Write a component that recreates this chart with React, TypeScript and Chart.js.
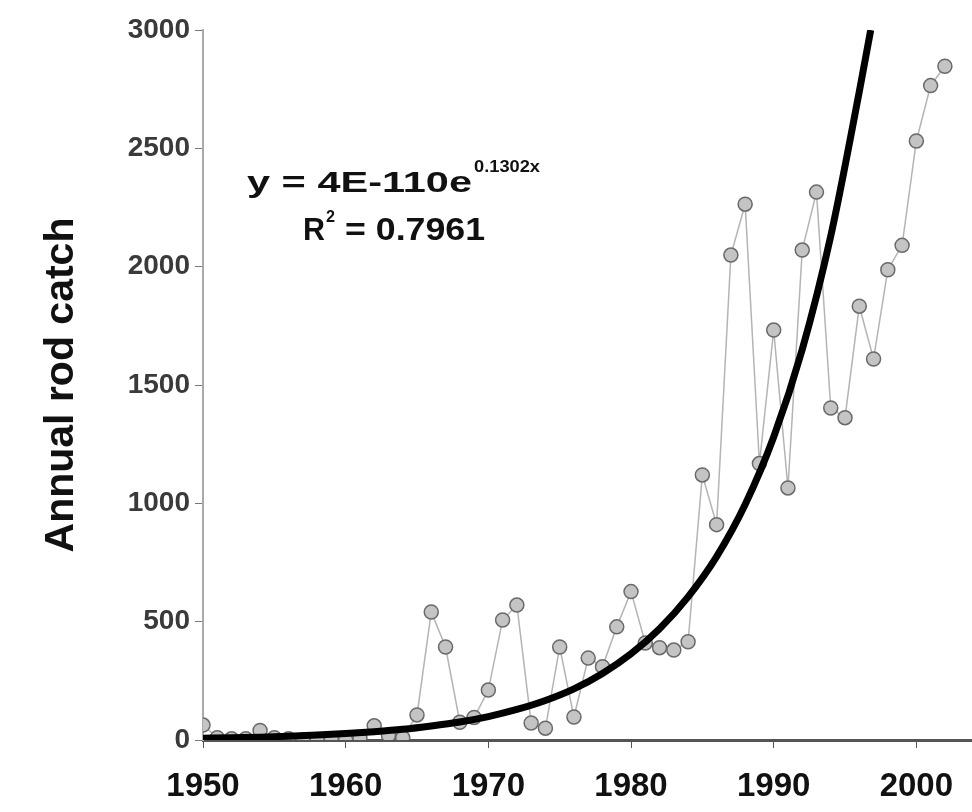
import React, { useEffect, useRef } from 'react';
import { Chart, registerables } from 'chart.js';

Chart.register(...registerables);

const years = [
  1950, 1951, 1952, 1953, 1954, 1955, 1956, 1957, 1958, 1959,
  1960, 1961, 1962, 1963, 1964, 1965, 1966, 1967, 1968, 1969,
  1970, 1971, 1972, 1973, 1974, 1975, 1976, 1977, 1978, 1979,
  1980, 1981, 1982, 1983, 1984, 1985, 1986, 1987, 1988, 1989,
  1990, 1991, 1992, 1993, 1994, 1995, 1996, 1997, 1998, 1999,
  2000, 2001, 2002,
];
const catches = [
  63, 10, 5, 5, 40, 10, 5, 0, 0, 0,
  0, 10, 60, 20, 10, 106, 541, 393, 75, 95,
  211, 507, 570, 72, 50, 393, 97, 346, 310, 478,
  627, 410, 390, 380, 415, 1120, 910, 2049, 2264, 1168,
  1732, 1065, 2070, 2315, 1403, 1362, 1833, 1610, 1987, 2090,
  2531, 2765, 2847,
];
// exponential trend line as drawn on the chart
const trendYears = [
  1950, 1952, 1954, 1956, 1958, 1960, 1962, 1964, 1966, 1968,
  1970, 1972, 1974, 1976, 1978, 1980, 1982, 1984, 1986, 1988,
  1990, 1992, 1994, 1996, 1996.8,
];
const trendValues = [
  7, 10, 12, 16, 21, 27, 35, 45, 59, 76,
  99, 129, 167, 216, 281, 364, 470, 605, 775, 995,
  1280, 1650, 2130, 2740, 3000,
];
const xTicks = [1950, 1960, 1970, 1980, 1990, 2000];
const yTicks = [0, 500, 1000, 1500, 2000, 2500, 3000];
const yTitle = 'Annual rod catch';
const eqMain = 'y = 4E-110e';
const eqExp = '0.1302x';
const r2Base = 'R';
const r2Sup = '2';
const r2Rest = '= 0.7961';

const FONT = '"Liberation Sans", Arial, sans-serif';

function drawScaled(ctx: any, text: string, x: number, y: number, font: string, width: number) {
  ctx.font = font;
  const w = ctx.measureText(text).width;
  ctx.save();
  ctx.translate(x, y);
  ctx.scale(width / w, 1);
  ctx.fillText(text, 0, 0);
  ctx.restore();
}

export default function App() {
  const ref = useRef<HTMLCanvasElement | null>(null);

  useEffect(() => {
    if (!ref.current) return;
    const eqPlugin = {
      id: 'eqText',
      afterDatasetsDraw(chart: any) {
        const { ctx } = chart;
        ctx.save();
        ctx.fillStyle = '#111';
        ctx.textBaseline = 'alphabetic';
        ctx.textAlign = 'left';
        drawScaled(ctx, eqMain, 247, 192, `bold 29px ${FONT}`, 225);
        drawScaled(ctx, eqExp, 474, 172, `bold 17px ${FONT}`, 66);
        drawScaled(ctx, r2Base, 303, 240, `bold 31px ${FONT}`, 22);
        drawScaled(ctx, r2Sup, 326, 222, `bold 17px ${FONT}`, 9);
        drawScaled(ctx, r2Rest, 345, 240, `bold 31px ${FONT}`, 140);
        ctx.restore();
      },
    };

    const chart = new Chart(ref.current, {
      type: 'line',
      data: {
        datasets: [
          {
            label: 'Trend',
            data: trendYears.map((yr, i) => ({ x: yr, y: trendValues[i] })),
            borderColor: '#000',
            borderWidth: 7,
            pointRadius: 0,
            cubicInterpolationMode: 'monotone',
            order: 0,
          },
          {
            label: 'Catch',
            data: years.map((yr, i) => ({ x: yr, y: catches[i] })),
            borderColor: '#b4b4b4',
            borderWidth: 1.5,
            pointRadius: 7,
            pointStyle: 'circle',
            pointBackgroundColor: '#c4c4c4',
            pointBorderColor: '#6a6a6a',
            pointBorderWidth: 1.5,
            order: 1,
          },
        ],
      },
      options: {
        animation: false,
        responsive: false,
        devicePixelRatio: 1,
        layout: { autoPadding: false, padding: { top: 30, right: 0, left: 0, bottom: 0 } },
        plugins: { legend: { display: false }, tooltip: { enabled: false } },
        scales: {
          x: {
            type: 'linear',
            min: 1950,
            max: 2003.9,
            afterBuildTicks: (s: any) => {
              s.ticks = xTicks.map((v) => ({ value: v }));
            },
            afterFit: (s: any) => {
              s.height = 72;
              s.paddingLeft = 0;
              s.paddingRight = 0;
            },
            ticks: {
              font: { family: FONT, size: 33, weight: 'bold' },
              color: '#111',
              padding: 19,
              maxRotation: 0,
              autoSkip: false,
              callback: (v: any) => String(v),
            },
            grid: { drawOnChartArea: false, tickLength: 8, color: '#555' },
            border: { color: '#555', width: 3 },
          },
          y: {
            min: 0,
            max: 3000,
            afterBuildTicks: (s: any) => {
              s.ticks = yTicks.map((v) => ({ value: v }));
            },
            afterFit: (s: any) => {
              s.width = 203;
              s.paddingTop = 0;
              s.paddingBottom = 0;
            },
            ticks: {
              font: { family: FONT, size: 28, weight: 'bold' },
              color: '#3a3a3a',
              padding: 5,
              callback: (v: any) => String(v),
            },
            grid: { drawOnChartArea: false, tickLength: 8, color: '#777' },
            border: { color: '#aaa', width: 2 },
            title: {
              display: true,
              text: yTitle,
              font: { family: FONT, size: 41, weight: 'bold' },
              color: '#111',
              padding: { top: 37, bottom: 0 },
            },
          },
        },
      },
      plugins: [eqPlugin],
    } as any);
    return () => chart.destroy();
  }, []);

  return (
    <div style={{ position: 'fixed', left: 0, top: 0, width: 972, height: 812, background: '#fff' }}>
      <canvas ref={ref} width={972} height={812} style={{ width: 972, height: 812 }} />
    </div>
  );
}
